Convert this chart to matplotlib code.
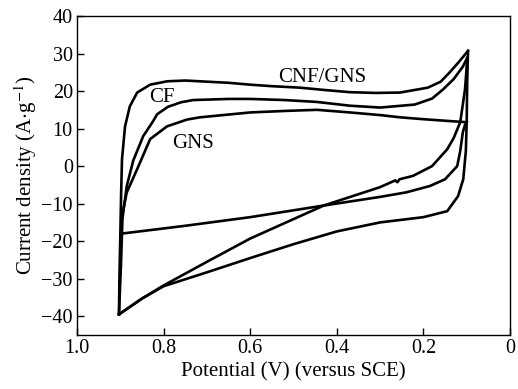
import numpy as np
import matplotlib.pyplot as plt

plt.rcParams['font.family'] = ['Liberation Serif', 'DejaVu Serif']
plt.rcParams['mathtext.fontset'] = 'stix'

# CNF/GNS loop (potential V, current density A/g)
cnf_up_v = [0.903, 0.902, 0.900, 0.898, 0.896, 0.889, 0.878, 0.861, 0.831, 0.792, 0.75, 0.70,
            0.65, 0.60, 0.55, 0.485, 0.43, 0.37, 0.31, 0.254, 0.19, 0.16, 0.14, 0.12, 0.097]
cnf_up_i = [-39.5, -30, -19, -7, 1.9, 10.6, 15.9, 19.6, 21.7, 22.6, 22.8, 22.5,
            22.2, 21.7, 21.3, 20.9, 20.3, 19.7, 19.5, 19.6, 20.9, 22.5, 24.9, 27.5, 30.7]
cnf_dn_v = [0.097, 0.099, 0.100, 0.102, 0.108, 0.12, 0.145, 0.2, 0.3, 0.4, 0.5, 0.6,
            0.7, 0.8, 0.85, 0.903]
cnf_dn_i = [30.7, 22, 12, 4, -3.5, -8, -12, -13.6, -15, -17.4, -20.8, -24.5,
            -28.3, -32, -35.3, -39.5]

# CF loop
cf_up_v = [0.903, 0.898, 0.895, 0.885, 0.87, 0.847, 0.824, 0.815, 0.79, 0.76, 0.732, 0.65,
           0.6, 0.52, 0.446, 0.37, 0.30, 0.22, 0.18, 0.155, 0.13, 0.109, 0.099]
cf_up_i = [-39.5, -25, -14, -5.3, 1.5, 8, 12, 13.8, 15.8, 17, 17.6, 17.9,
           17.9, 17.6, 17.1, 16.1, 15.6, 16.4, 18.0, 20.4, 23.2, 26.5, 28.8]
cf_dn_v = [0.099, 0.101, 0.104, 0.115, 0.13, 0.145, 0.18, 0.224, 0.255, 0.26, 0.265, 0.3,
           0.43, 0.6, 0.7, 0.8, 0.85, 0.903]
cf_dn_i = [28.8, 25, 20.4, 11.7, 7.5, 4.5, 0, -2.6, -3.5, -4.3, -3.8, -5.6,
           -10.5, -19.3, -25.5, -31.8, -35.3, -39.5]

# GNS loop
gns_up_v = [0.898, 0.897, 0.896, 0.885, 0.861, 0.831, 0.792, 0.746, 0.716, 0.6, 0.52,
            0.446, 0.37, 0.30, 0.254, 0.2, 0.139, 0.1]
gns_up_i = [-18, -15.5, -13.2, -7, -0.8, 7.2, 10.6, 12.4, 13, 14.3, 14.7,
            15.0, 14.3, 13.6, 13, 12.5, 12, 11.7]
gns_dn_v = [0.1, 0.104, 0.109, 0.115, 0.122, 0.15, 0.185, 0.24, 0.3, 0.43, 0.6, 0.75, 0.898]
gns_dn_i = [11.7, 11, 9, 4, 0, -3.5, -5.3, -7, -8.2, -10.5, -13.6, -15.9, -18]

fig = plt.figure(figsize=(5.18, 3.89), dpi=100)
ax = fig.add_axes([0.1486, 0.1388, 0.836, 0.8201])

for v, i in [(cnf_up_v, cnf_up_i), (cnf_dn_v, cnf_dn_i),
             (cf_up_v, cf_up_i), (cf_dn_v, cf_dn_i),
             (gns_up_v, gns_up_i), (gns_dn_v, gns_dn_i)]:
    ax.plot(v, i, color='black', lw=1.9, solid_joinstyle='round')

ax.text(0.434, 23.6, 'CNF/GNS', fontsize=15, ha='center', va='center')
ax.text(0.805, 18.3, 'CF', fontsize=15, ha='center', va='center')
ax.text(0.732, 6.0, 'GNS', fontsize=15, ha='center', va='center')

ax.set_xlim(1.0, 0)
ax.set_ylim(-45, 40)
ax.set_xticks([1.0, 0.8, 0.6, 0.4, 0.2, 0])
ax.set_xticklabels(['1.0', '0.8', '0.6', '0.4', '0.2', '0'])
ax.set_yticks(np.arange(-40, 41, 10))
ax.tick_params(direction='in', length=5, labelsize=14.5, width=1, pad=3)
for s in ax.spines.values():
    s.set_linewidth(1)

ax.set_xlabel('Potential (V) (versus SCE)', fontsize=15, labelpad=3)
ax.set_ylabel('Current density (A$\\cdot$g$^{-1}$)', fontsize=15, labelpad=2)

plt.savefig('out.png', dpi=100)
